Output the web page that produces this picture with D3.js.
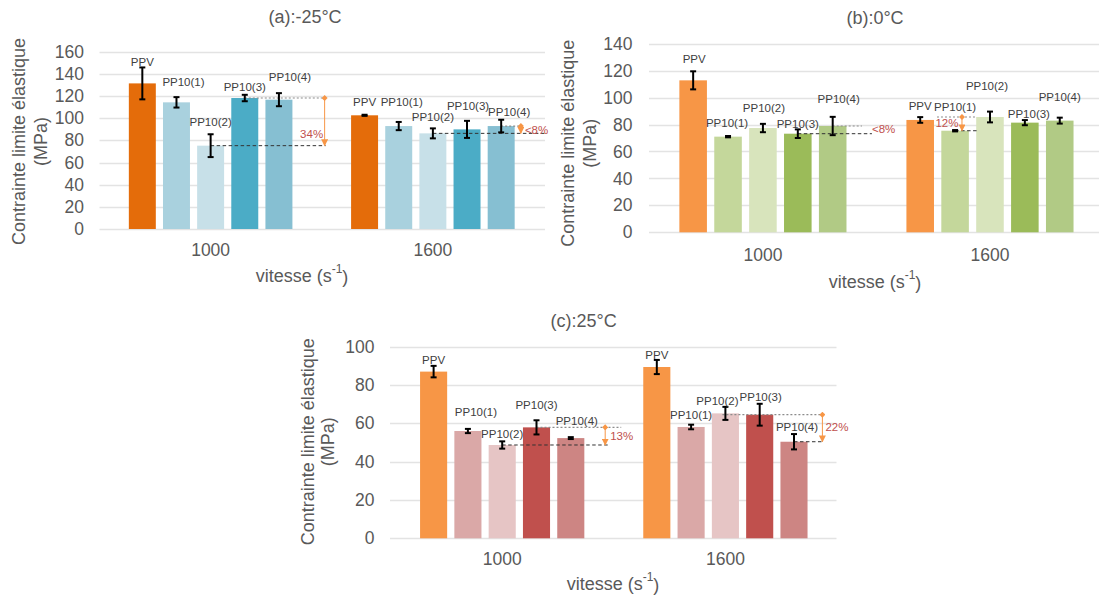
<!DOCTYPE html>
<html>
<head>
<meta charset="utf-8">
<script src="https://cdn.jsdelivr.net/npm/d3@7"></script>
<style>
  html, body { margin: 0; padding: 0; background: #ffffff; }
  svg { display: block; font-family: "Liberation Sans", Arial, sans-serif; }
</style>
</head>
<body>
<svg id="chart" width="1099" height="605"></svg>
<script>
// ---------------- DATA ----------------
const categories = ["1000", "1600"];
const seriesNames = ["PPV", "PP10(1)", "PP10(2)", "PP10(3)", "PP10(4)"];

const yTicksA = [0, 20, 40, 60, 80, 100, 120, 140, 160];
const yTicksB = [0, 20, 40, 60, 80, 100, 120, 140];
const yTicksC = [0, 20, 40, 60, 80, 100];

// (a) -25°C : values per category (rows) and series (columns)
const valuesA = [[131.4, 114.3, 75.2, 118.2, 116.7], [102.6, 92.9, 86.3, 89.9, 92.9]];
const errorsA = [[14.4, 4.7, 10.3, 2.9, 5.9], [0.5, 3.7, 4.5, 7.7, 5.7]];
// (b) 0°C
const valuesB = [[112.8, 71.0, 77.4, 73.2, 78.9], [83.4, 75.4, 85.6, 81.4, 82.9]];
const errorsB = [[6.7, 0.5, 3.1, 3.2, 6.8], [2.1, 0.5, 4.0, 1.9, 2.2]];
// (c) 25°C
const valuesC = [[87.0, 56.0, 48.7, 57.9, 52.3], [89.4, 58.1, 65.2, 64.5, 50.4]];
const errorsC = [[3.0, 1.1, 1.9, 3.7, 0.5], [3.7, 1.2, 3.4, 5.7, 4.0]];

// ---------------- LAYOUT / STYLE ----------------
// label heights (in data units) and horizontal nudges (px) for the data labels
const labelYA = [[150.4, 132.9, 96.2, 127.8, 137.4], [114.9, 114.9, 100.8, 111.0, 105.6]];
const labelDxA = [[0, 7, 0, 0, 11], [0, 3, 0, 1, 8]];
const labelYB = [[128.6, 80.9, 92.5, 80.6, 98.9], [93.7, 92.8, 108.3, 87.8, 100.7]];
const labelDxB = [[1, -1, 1, 0, 6], [0, 0, -3, 4, 0]];
const labelYC = [[92.9, 65.9, 54.4, 69.7, 61.4], [95.5, 64.2, 71.7, 73.6, 57.9]];
const labelDxC = [[0, 8, 0, 0, 6], [0, 0, -8, 1, 3]];

const colorsA = ["#E46C0A", "#A9D1DE", "#C7E0E8", "#4BACC6", "#86BFD2"];
const colorsB = ["#F79646", "#C4D79B", "#D8E4BC", "#9BBB59", "#B1CA85"];
const colorsC = ["#F79646", "#DAA8A7", "#E6C5C5", "#C0504D", "#CD8583"];

// annotations: percentage differences between two bars of a group
const annotA = [
  { cat: 0, up: 3, low: 2, upEnd: 115, lowEnd: 115, arrowDx: 114, text: "34%", textDx: 101, textVal: 85.7, anchor: "middle" },
  { cat: 1, up: 4, low: 2, upEnd: 88, lowEnd: 112, arrowDx: 88, text: "<8%", textDx: 92, textVal: 89.5, anchor: "start" }
];
const annotB = [
  { cat: 0, up: 4, low: 3, upEnd: 99, lowEnd: 109, arrowDx: null, text: "<8%", textDx: 109, textVal: 76.5, anchor: "start" },
  { cat: 1, up: 2, low: 1, upStart: -53, upEnd: -13, lowEnd: -12, arrowDx: -28, text: "12%", textDx: -43, textVal: 81.4, anchor: "middle" }
];
const annotC = [
  { cat: 0, up: 3, low: 2, upEnd: 119, lowEnd: 107, arrowDx: 103, text: "13%", textDx: 108, textVal: 53.5, anchor: "start" },
  { cat: 1, up: 3, low: 4, upStart: -3, upEnd: 98, lowEnd: 98, arrowDx: 97, text: "22%", textDx: 100, textVal: 58, anchor: "start" }
];

const panels = [
  { title: "(a):-25°C", values: valuesA, errors: errorsA, ticks: yTicksA, colors: colorsA,
    labelY: labelYA, labelDx: labelDxA, annots: annotA,
    left: 99.5, right: 544, gridLeft: 99.5, gridRight: 545, y0: 229, yTop: 51.7,
    tickRight: 84, titleX: 305, titleY: 17, catY: 249.5, axTitleX: 302, axTitleY: 276,
    yTitleX1: 19, yTitleX2: 41, yTitleY: 141.5 },
  { title: "(b):0°C", values: valuesB, errors: errorsB, ticks: yTicksB, colors: colorsB,
    labelY: labelYB, labelDx: labelDxB, annots: annotB,
    left: 649.4, right: 1103.5, gridLeft: 649, gridRight: 1099, y0: 232.3, yTop: 43.7,
    tickRight: 632.5, titleX: 875, titleY: 17.5, catY: 255, axTitleX: 875, axTitleY: 281.5,
    yTitleX1: 568, yTitleX2: 590, yTitleY: 143.3 },
  { title: "(c):25°C", values: valuesC, errors: errorsC, ticks: yTicksC, colors: colorsC,
    labelY: labelYC, labelDx: labelDxC, annots: annotC,
    left: 390.6, right: 837, gridLeft: 390, gridRight: 836.5, y0: 538.3, yTop: 346.7,
    tickRight: 374.5, titleX: 583.6, titleY: 320.7, catY: 559, axTitleX: 613, axTitleY: 584,
    yTitleX1: 308, yTitleX2: 327.5, yTitleY: 441.7 }
];

const svg = d3.select("#chart");

const defs = svg.append("defs");
defs.append("marker").attr("id", "arrowHead")
  .attr("viewBox", "0 0 10 10").attr("refX", 9).attr("refY", 5)
  .attr("markerWidth", 7).attr("markerHeight", 7).attr("markerUnits", "userSpaceOnUse")
  .attr("orient", "auto")
  .append("path").attr("d", "M0,0 L10,5 L0,10 Z").attr("fill", "#F79646");
defs.append("marker").attr("id", "diamond")
  .attr("viewBox", "0 0 10 10").attr("refX", 5).attr("refY", 5)
  .attr("markerWidth", 6).attr("markerHeight", 6).attr("markerUnits", "userSpaceOnUse")
  .attr("orient", "auto")
  .append("path").attr("d", "M5,0 L10,5 L5,10 L0,5 Z").attr("fill", "#F79646");

function drawPanel(p) {
  const g = svg.append("g");
  const x0 = d3.scaleBand().domain(categories).range([p.left, p.right]);
  const groupW = x0.bandwidth() * 0.736;
  const groupOff = (x0.bandwidth() - groupW) / 2;
  const x1 = d3.scaleBand().domain(seriesNames).range([0, groupW]).paddingInner(0.21);
  const y = d3.scaleLinear().domain([0, p.ticks[p.ticks.length - 1]]).range([p.y0, p.yTop]);
  const barX = (ci, si) => x0(categories[ci]) + groupOff + x1(seriesNames[si]);
  const barC = (ci, si) => barX(ci, si) + x1.bandwidth() / 2;

  // gridlines
  g.append("g").selectAll("line").data(p.ticks).join("line")
    .attr("x1", p.gridLeft).attr("x2", p.gridRight)
    .attr("y1", d => Math.round(y(d)) + 0.5).attr("y2", d => Math.round(y(d)) + 0.5)
    .attr("stroke", "#E3E3E3").attr("stroke-width", 1.3);

  // y axis tick labels
  const ya = g.append("g").attr("transform", `translate(${p.tickRight},0)`)
    .call(d3.axisLeft(y).tickValues(p.ticks).tickSize(0).tickPadding(0));
  ya.select(".domain").remove();
  ya.selectAll("text").attr("font-size", 17.5).attr("fill", "#595959")
    .attr("font-family", "Liberation Sans, Arial, sans-serif");

  // category labels
  const xa = g.append("g").attr("transform", `translate(0,${p.catY})`)
    .call(d3.axisBottom(x0).tickSize(0).tickPadding(0));
  xa.select(".domain").remove();
  xa.selectAll("text").attr("y", 0).attr("dy", "0.35em").attr("font-size", 17.5).attr("fill", "#595959")
    .attr("font-family", "Liberation Sans, Arial, sans-serif");

  // flattened data
  const flat = [];
  p.values.forEach((row, ci) => row.forEach((v, si) => flat.push({
    ci, si, v, e: p.errors[ci][si], ly: p.labelY[ci][si], ldx: p.labelDx[ci][si]
  })));

  // bars
  g.append("g").selectAll("rect").data(flat).join("rect")
    .attr("x", d => barX(d.ci, d.si)).attr("width", x1.bandwidth())
    .attr("y", d => y(d.v)).attr("height", d => y(0) - y(d.v))
    .attr("fill", d => p.colors[d.si]);

  // annotations (dashed reference lines + arrows + text)
  const ag = g.append("g");
  p.annots.forEach(a => {
    const cx = x0(categories[a.cat]) + x0.bandwidth() / 2;
    const vUp = p.values[a.cat][a.up], vLow = p.values[a.cat][a.low];
    const upStart = a.upStart !== undefined ? cx + a.upStart : barC(a.cat, a.up);
    ag.append("line").attr("x1", upStart).attr("x2", cx + a.upEnd)
      .attr("y1", y(vUp)).attr("y2", y(vUp))
      .attr("stroke", "#8C8C8C").attr("stroke-width", 1.2).attr("stroke-dasharray", "2,2");
    ag.append("line").attr("x1", barC(a.cat, a.low)).attr("x2", cx + a.lowEnd)
      .attr("y1", y(vLow)).attr("y2", y(vLow))
      .attr("stroke", "#333333").attr("stroke-width", 1).attr("stroke-dasharray", "3.5,2.5");
    if (a.arrowDx !== null) {
      ag.append("line").attr("x1", cx + a.arrowDx).attr("x2", cx + a.arrowDx)
        .attr("y1", y(vUp)).attr("y2", y(vLow))
        .attr("stroke", "#F79646").attr("stroke-width", 1)
        .attr("marker-start", "url(#diamond)").attr("marker-end", "url(#arrowHead)");
    }
    ag.append("text").attr("x", cx + a.textDx).attr("y", y(a.textVal))
      .attr("dy", "0.35em").attr("text-anchor", a.anchor)
      .attr("font-size", 11.5).attr("fill", "#C0504D").text(a.text);
  });

  // error bars
  const eg = g.append("g").attr("stroke", "#000").attr("stroke-width", 2);
  flat.forEach(d => {
    const cx = barC(d.ci, d.si);
    const yt = y(d.v + d.e), yb = y(d.v - d.e);
    eg.append("line").attr("x1", cx).attr("x2", cx).attr("y1", yt).attr("y2", yb);
    eg.append("line").attr("x1", cx - 3).attr("x2", cx + 3).attr("y1", yt).attr("y2", yt);
    eg.append("line").attr("x1", cx - 3).attr("x2", cx + 3).attr("y1", yb).attr("y2", yb);
  });

  // data labels
  g.append("g").selectAll("text").data(flat).join("text")
    .attr("x", d => barC(d.ci, d.si) + d.ldx).attr("y", d => y(d.ly))
    .attr("dy", "0.35em").attr("text-anchor", "middle")
    .attr("font-size", 11.5).attr("fill", "#404040")
    .text(d => seriesNames[d.si]);

  // title
  g.append("text").attr("x", p.titleX).attr("y", p.titleY).attr("dy", "0.35em")
    .attr("text-anchor", "middle").attr("font-size", 18).attr("fill", "#595959").text(p.title);

  // x axis title with superscript
  const xt = g.append("text").attr("x", p.axTitleX).attr("y", p.axTitleY).attr("dy", "0.35em")
    .attr("text-anchor", "middle").attr("font-size", 18).attr("fill", "#595959");
  xt.append("tspan").text("vitesse (s");
  xt.append("tspan").attr("font-size", 12).attr("dy", "-0.75em").text("-1");
  xt.append("tspan").attr("dy", "0.55em").text(")");

  // y axis title (two lines, rotated)
  [["Contrainte limite élastique", p.yTitleX1], ["(MPa)", p.yTitleX2]].forEach(([t, xx]) => {
    g.append("text").attr("x", xx).attr("y", p.yTitleY).attr("dy", "0.35em")
      .attr("text-anchor", "middle").attr("font-size", 18).attr("fill", "#595959")
      .attr("transform", `rotate(-90,${xx},${p.yTitleY})`).text(t);
  });
}

panels.forEach(drawPanel);
</script>
</body>
</html>
